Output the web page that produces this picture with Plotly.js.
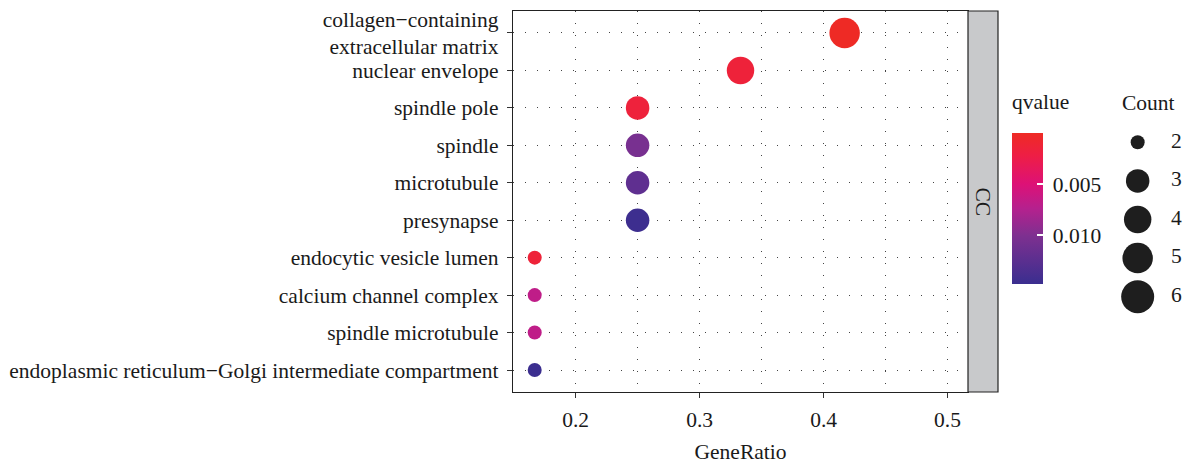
<!DOCTYPE html>
<html>
<head>
<meta charset="utf-8">
<script src="https://cdn.plot.ly/plotly-3.0.1.min.js"></script>
<style>html,body{margin:0;padding:0;background:#fff;}#chart{width:1197px;height:467px;}</style>
</head>
<body>
<div id="chart"></div>
<script>
// ---- data ----
const terms = [
  'collagen−containing<br>extracellular matrix',
  'nuclear envelope',
  'spindle pole',
  'spindle',
  'microtubule',
  'presynapse',
  'endocytic vesicle lumen',
  'calcium channel complex',
  'spindle microtubule',
  'endoplasmic reticulum−Golgi intermediate compartment'
];
const geneRatio = [0.417, 0.333, 0.250, 0.250, 0.250, 0.250, 0.167, 0.167, 0.167, 0.167];
const counts    = [5, 4, 3, 3, 3, 3, 2, 2, 2, 2];
const qvalues   = [0.0001, 0.0015, 0.0016, 0.0105, 0.0122, 0.0146, 0.0014, 0.0068, 0.0068, 0.0147];
const xTicks    = [0.2, 0.3, 0.4, 0.5];
const qTicks    = [0.005, 0.010];
const qTickText = ['0.005', '0.010'];
const legendCounts = [2, 3, 4, 5, 6];
const ontology  = 'CC';

// ---- scales ----
const countMin = 2, countMax = 6, dMin = 14, dMax = 33;
const sizeOf = c => dMin + (dMax - dMin) * Math.sqrt((c - countMin) / (countMax - countMin));
const qMin = 0, qMax = 0.0148;
// colour bar is reversed (low q on top): map on -q
const cscale = [
  [0.00, '#3A2E8F'],
  [0.32, '#7E3090'],
  [0.50, '#B5218E'],
  [0.66, '#DD1177'],
  [0.85, '#EE1E45'],
  [1.00, '#EE2B24']
];

const FONT = 'Liberation Serif, Times New Roman, serif';
const FS = 21.5;
const TXT = '#1a1a1a';
const W = 1197, H = 467, L = 513, R = 0, T = 11, B = 75;
const PW = W - L - R, PH = H - T - B;
const px = x => (x - L) / PW;
const py = y => (H - B - y) / PH;

const cbBase = {
  x: px(1012), xanchor: 'left',
  y: py(208.5), yanchor: 'middle',
  thickness: 31, thicknessmode: 'pixels',
  len: 151, lenmode: 'pixels',
  outlinewidth: 0, xpad: 0, ypad: 0,
  tickmode: 'array',
  tickvals: qTicks.map(v => -v),
  ticktext: qTickText,
  title: {text: ''}
};

const mainTrace = {
  type: 'scatter', mode: 'markers',
  x: geneRatio, y: terms,
  xaxis: 'x', yaxis: 'y',
  marker: {
    size: counts.map(sizeOf),
    sizemode: 'diameter',
    color: qvalues.map(v => -v),
    cmin: -qMax, cmax: -qMin,
    colorscale: cscale,
    line: {width: 0},
    opacity: 1,
    colorbar: Object.assign({}, cbBase, {
      ticks: 'outside', ticklen: 6, tickwidth: 1, tickcolor: 'rgba(0,0,0,0)',
      tickfont: {family: FONT, size: FS, color: TXT}
    })
  },
  hoverinfo: 'x+y',
  showlegend: false
};

// second colour bar (same scale) only to draw the white inner ticks
const tickBarTrace = {
  type: 'scatter', mode: 'markers',
  x: [null], y: [null],
  xaxis: 'x', yaxis: 'y',
  marker: {
    color: [-qTicks[0]], cmin: -qMax, cmax: -qMin, colorscale: cscale, showscale: true,
    colorbar: Object.assign({}, cbBase, {
      ticks: 'inside', ticklen: 6, tickwidth: 1.5, tickcolor: '#ffffff',
      showticklabels: false
    })
  },
  hoverinfo: 'skip', showlegend: false
};

const sizeLegendDots = {
  type: 'scatter', mode: 'markers',
  x: legendCounts.map(() => 0.318), y: legendCounts,
  xaxis: 'x2', yaxis: 'y2',
  marker: {size: legendCounts.map(sizeOf), sizemode: 'diameter', color: '#1e1e1e', opacity: 1, line: {width: 0}},
  hoverinfo: 'skip', showlegend: false
};
const sizeLegendText = {
  type: 'scatter', mode: 'text',
  x: legendCounts.map(() => 0.70), y: legendCounts,
  text: legendCounts.map(String),
  textposition: 'middle right',
  textfont: {family: FONT, size: FS, color: TXT},
  xaxis: 'x2', yaxis: 'y2',
  hoverinfo: 'skip', showlegend: false
};

const xEnd = (968 - L) / PW;
const stripEnd = (998 - L) / PW;

const layout = {
  width: W, height: H,
  margin: {l: L, r: R, t: T, b: B, pad: 0},
  paper_bgcolor: '#ffffff', plot_bgcolor: '#ffffff',
  font: {family: FONT, size: FS, color: TXT},
  xaxis: {
    domain: [0, xEnd],
    range: [0.1495, 0.5165],
    tickmode: 'array', tickvals: xTicks, ticktext: xTicks.map(v => v.toFixed(1)),
    ticks: 'outside', ticklen: 5, tickwidth: 1, tickcolor: '#333333',
    ticklabelstandoff: 3,
    tickfont: {family: FONT, size: FS, color: TXT},
    showgrid: true, gridcolor: '#444444', gridwidth: 1, griddash: '1px,11px',
    minor: {dtick: 0.05, tick0: 0.15, showgrid: true, gridcolor: '#444444', gridwidth: 1, griddash: '1px,11px', ticks: ''},
    zeroline: false,
    showline: true, mirror: true, linecolor: '#222222', linewidth: 1.2,
    title: {text: 'GeneRatio', font: {family: FONT, size: FS, color: TXT}, standoff: 13},
    fixedrange: true
  },
  yaxis: {
    type: 'category',
    categoryorder: 'array', categoryarray: terms,
    range: [terms.length - 1 + 0.587, -0.587],
    ticks: 'outside', ticklen: 5, tickwidth: 1, tickcolor: '#333333',
    ticklabelstandoff: 4,
    tickfont: {family: FONT, size: FS, color: TXT},
    showgrid: true, gridcolor: '#444444', gridwidth: 1, griddash: '1px,11px',
    zeroline: false,
    showline: true, mirror: true, linecolor: '#222222', linewidth: 1.2,
    fixedrange: true
  },
  xaxis2: {
    domain: [px(1110), 1], range: [0, 1], anchor: 'y2',
    visible: false, fixedrange: true
  },
  yaxis2: {
    domain: [py(320), py(120)], range: [6.604, 1.422], anchor: 'x2',
    visible: false, fixedrange: true
  },
  shapes: [
    {type: 'rect', xref: 'paper', yref: 'paper', x0: xEnd, x1: stripEnd, y0: 0, y1: 1,
     fillcolor: '#c8c9cb', line: {color: '#222222', width: 1.2}, layer: 'above'}
  ],
  annotations: [
    {xref: 'paper', yref: 'paper', x: (xEnd + stripEnd) / 2, y: 0.5, text: ontology,
     textangle: 90, showarrow: false, font: {family: FONT, size: FS, color: TXT},
     xanchor: 'center', yanchor: 'middle'},
    {xref: 'paper', yref: 'paper', x: px(1010), y: py(102), text: 'qvalue',
     showarrow: false, xanchor: 'left', yanchor: 'middle',
     font: {family: FONT, size: FS, color: TXT}},
    {xref: 'paper', yref: 'paper', x: px(1120), y: py(103), text: 'Count',
     showarrow: false, xanchor: 'left', yanchor: 'middle',
     font: {family: FONT, size: FS, color: TXT}}
  ]
};

Plotly.newPlot('chart', [mainTrace, tickBarTrace, sizeLegendDots, sizeLegendText], layout, {displayModeBar: false, staticPlot: true});
</script>
</body>
</html>
